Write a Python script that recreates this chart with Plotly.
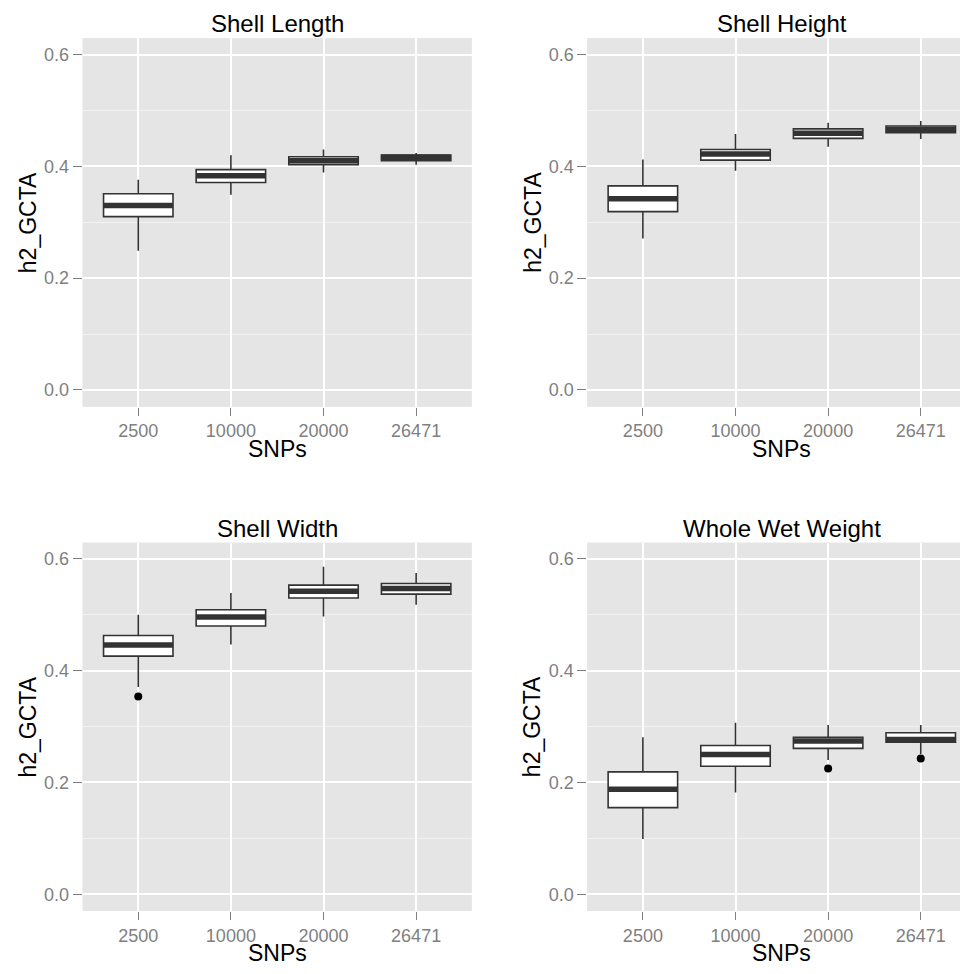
import plotly.graph_objects as go

# ---------------- data ----------------
snps = ["2500", "10000", "20000", "26471"]
titles = ["Shell Length", "Shell Height", "Shell Width", "Whole Wet Weight"]

length_lower = [0.249, 0.349, 0.389, 0.403]
length_q1 = [0.310, 0.371, 0.403, 0.410]
length_med = [0.330, 0.383, 0.410, 0.416]
length_q3 = [0.351, 0.394, 0.417, 0.420]
length_upper = [0.376, 0.420, 0.430, 0.424]
length_out_x = []
length_out_y = []

height_lower = [0.271, 0.392, 0.435, 0.449]
height_q1 = [0.319, 0.411, 0.450, 0.460]
height_med = [0.342, 0.422, 0.459, 0.466]
height_q3 = [0.365, 0.430, 0.467, 0.472]
height_upper = [0.412, 0.458, 0.478, 0.481]
height_out_x = []
height_out_y = []

width_lower = [0.371, 0.447, 0.497, 0.518]
width_q1 = [0.426, 0.480, 0.530, 0.537]
width_med = [0.446, 0.496, 0.542, 0.547]
width_q3 = [0.463, 0.509, 0.553, 0.556]
width_upper = [0.500, 0.539, 0.586, 0.575]
width_out_x = ["2500"]
width_out_y = [0.354]

weight_lower = [0.099, 0.182, 0.240, 0.251]
weight_q1 = [0.155, 0.229, 0.261, 0.272]
weight_med = [0.188, 0.250, 0.274, 0.277]
weight_q3 = [0.219, 0.266, 0.281, 0.289]
weight_upper = [0.281, 0.307, 0.303, 0.303]
weight_out_x = ["20000", "26471"]
weight_out_y = [0.225, 0.243]

panels = [
    (length_lower, length_q1, length_med, length_q3, length_upper, length_out_x, length_out_y),
    (height_lower, height_q1, height_med, height_q3, height_upper, height_out_x, height_out_y),
    (width_lower, width_q1, width_med, width_q3, width_upper, width_out_x, width_out_y),
    (weight_lower, weight_q1, weight_med, weight_q3, weight_upper, weight_out_x, weight_out_y),
]

# ---------------- layout geometry ----------------
# page body has an 8px margin, so the figure is placed at (8, 8)
OFF = 8
W, H = 968 - OFF, 974 - OFF


def px_x(v):
    return (v - OFF) / W


def px_y(v):
    return 1 - (v - OFF) / H


x_doms = [[px_x(82.7), px_x(471.7)], [px_x(587.3), 1.0]]
y_doms = [[px_y(406.7), px_y(38.3)], [px_y(911.0), px_y(542.7)]]
x_ranges = [[-0.6, 3.6], [-0.6, 3.51]]
BOX_W = 0.75

FONT = "Liberation Sans, Arial, sans-serif"
LINE = "#333333"

fig = go.Figure()
annotations = []
pos = list(range(len(snps)))

for i, (lo, q1, md, q3, up, ox, oy) in enumerate(panels):
    r, c = divmod(i, 2)
    n = i + 1
    xa = "x" if n == 1 else f"x{n}"
    ya = "y" if n == 1 else f"y{n}"

    fig.add_trace(go.Box(
        x=pos, q1=q1, median=md, q3=q3, lowerfence=lo, upperfence=up,
        width=BOX_W, whiskerwidth=0, fillcolor="white",
        line=dict(color=LINE, width=1.6), boxpoints=False,
        xaxis=xa, yaxis=ya, showlegend=False, hoverinfo="skip"))

    mx, my = [], []
    for p, m in zip(pos, md):
        mx += [p - BOX_W / 2, p + BOX_W / 2, None]
        my += [m, m, None]
    fig.add_trace(go.Scatter(
        x=mx, y=my, mode="lines", line=dict(color=LINE, width=5.5),
        xaxis=xa, yaxis=ya, showlegend=False, hoverinfo="skip"))

    if ox:
        fig.add_trace(go.Scatter(
            x=[snps.index(v) for v in ox], y=oy, mode="markers",
            marker=dict(color="black", size=8),
            xaxis=xa, yaxis=ya, showlegend=False, hoverinfo="skip"))

    axx = dict(domain=x_doms[c], range=x_ranges[c], anchor=ya,
               tickvals=pos, ticktext=snps, showgrid=True, gridcolor="white",
               gridwidth=2, zeroline=False, ticks="outside", ticklen=8,
               tickwidth=1, tickcolor="#7F7F7F",
               tickfont=dict(family=FONT, size=18, color="#7F7F7F"),
               showline=False, fixedrange=True)
    axy = dict(domain=y_doms[r], range=[-0.03, 0.629], anchor=xa,
               tickvals=[0, 0.2, 0.4, 0.6], ticktext=["0.0", "0.2", "0.4", "0.6"],
               showgrid=True, gridcolor="white", gridwidth=2, zeroline=False,
               ticks="outside", ticklen=9, tickwidth=1, tickcolor="#7F7F7F",
               tickfont=dict(family=FONT, size=18, color="#7F7F7F"),
               minor=dict(tickvals=[0.1, 0.3, 0.5], showgrid=True,
                          gridcolor="#F2F2F2", gridwidth=1, ticks=""),
               showline=False, fixedrange=True)
    fig.update_layout({("xaxis" if n == 1 else f"xaxis{n}"): axx,
                       ("yaxis" if n == 1 else f"yaxis{n}"): axy})

    xc = (x_doms[c][0] + x_doms[c][1]) / 2
    if c == 1:
        xc = (px_x(587.3) + px_x(587.3 + 389.0)) / 2
    annotations.append(dict(text=titles[i], xref="paper", yref="paper",
                            x=xc, y=y_doms[r][1], xanchor="center", yanchor="bottom",
                            yshift=-1, showarrow=False,
                            font=dict(family=FONT, size=24, color="black")))
    annotations.append(dict(text="SNPs", xref="paper", yref="paper",
                            x=xc, y=y_doms[r][0], xanchor="center", yanchor="top",
                            yshift=-27, showarrow=False,
                            font=dict(family=FONT, size=23, color="black")))
    annotations.append(dict(text="h2_GCTA", xref="paper", yref="paper",
                            x=x_doms[c][0], y=(y_doms[r][0] + y_doms[r][1]) / 2,
                            xanchor="center", yanchor="middle", xshift=-55,
                            textangle=-90, showarrow=False,
                            font=dict(family=FONT, size=23, color="black")))

# panel backgrounds
shapes = []
for i in range(4):
    r, c = divmod(i, 2)
    shapes.append(dict(type="rect", xref="paper", yref="paper", layer="below",
                       x0=x_doms[c][0], x1=x_doms[c][1], y0=y_doms[r][0], y1=y_doms[r][1],
                       fillcolor="#E5E5E5", line=dict(width=0)))

fig.update_layout(width=W, height=H, autosize=False,
                  margin=dict(l=0, r=0, t=0, b=0),
                  paper_bgcolor="white", plot_bgcolor="#E5E5E5",
                  annotations=annotations, shapes=shapes,
                  font=dict(family=FONT), showlegend=False)

fig.write_html("out.html")
